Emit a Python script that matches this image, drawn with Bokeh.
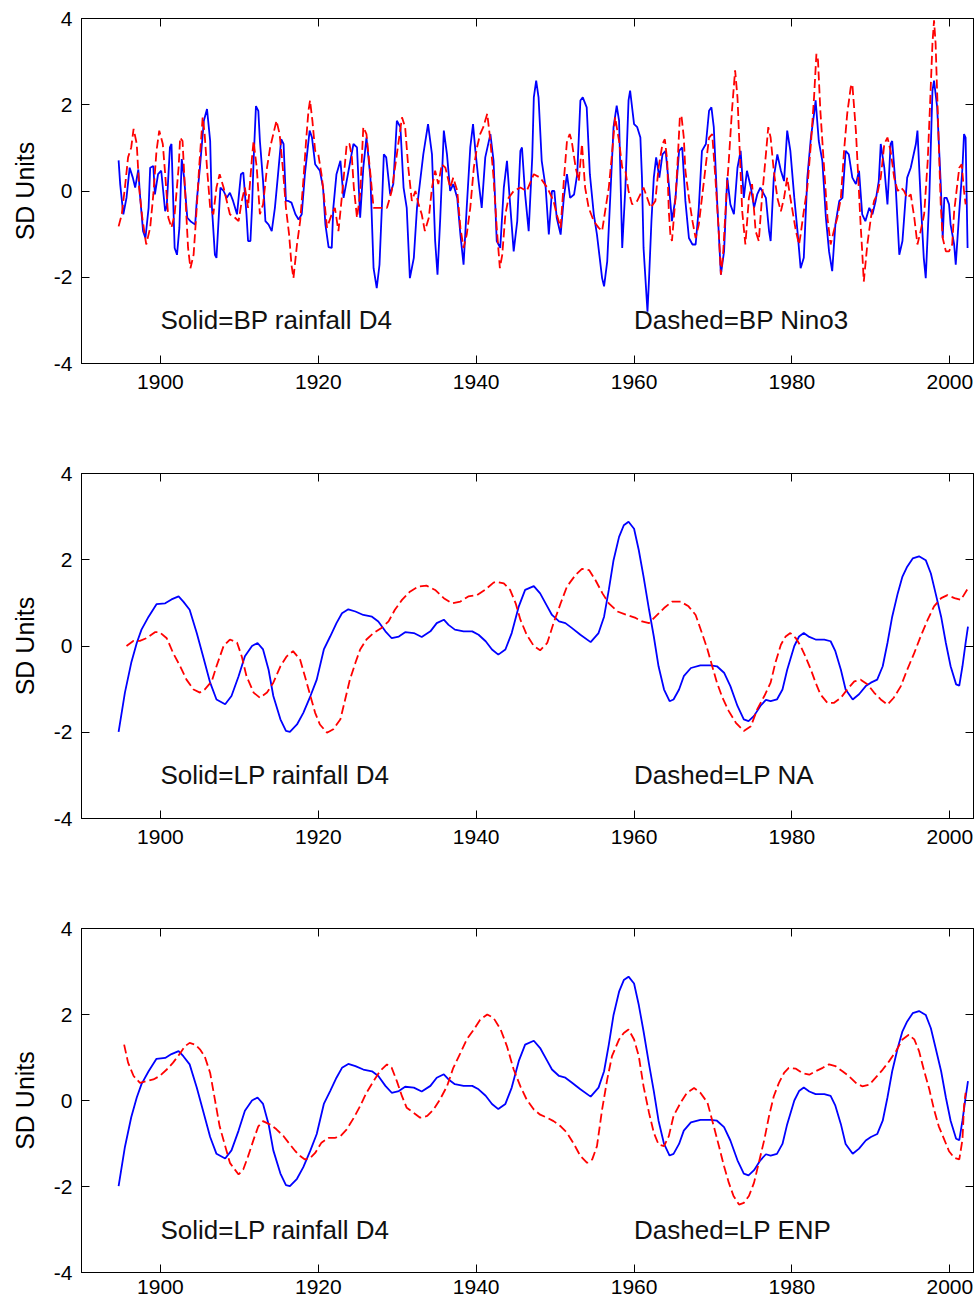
from bokeh.plotting import figure
from bokeh.layouts import column
from bokeh.models import Range1d, LinearAxis, FixedTicker, Label
from bokeh.embed import file_html
from bokeh.resources import INLINE

# ---------------- data ----------------
x_ticks = [1900, 1920, 1940, 1960, 1980, 2000]
y_ticks = [-4, -2, 0, 2, 4]
y_tick_text = {-4: "-4", -2: "-2", 0: "0", 2: "2", 4: "4"}

# Panel 1: band-pass rainfall D4 (solid blue)
bp_rain_yr = [1894.7, 1894.9, 1895.3, 1895.7, 1896.1, 1896.5, 1896.8, 1897.2, 1897.4, 1897.8,
              1898.1, 1898.5, 1898.7, 1899.1, 1899.3, 1899.7, 1900.1, 1900.6, 1900.8, 1901.2,
              1901.4, 1901.8, 1902.1, 1902.4, 1902.7, 1903.0, 1903.4, 1903.8, 1904.4, 1904.6,
              1905.0, 1905.5, 1905.9, 1906.3, 1906.5, 1906.9, 1907.1, 1907.5, 1907.6, 1908.0,
              1908.4, 1908.8, 1909.2, 1909.7, 1910.2, 1910.5, 1910.9, 1911.1, 1911.4, 1911.6,
              1911.8, 1912.1, 1912.4, 1912.6, 1913.0, 1913.3, 1913.7, 1914.1, 1914.5, 1914.9,
              1915.3, 1915.6, 1915.9, 1916.2, 1916.6, 1917.1, 1917.5, 1917.9, 1918.3, 1918.9,
              1919.2, 1919.6, 1920.2, 1920.6, 1920.9, 1921.3, 1921.7, 1921.9, 1922.3, 1922.8,
              1923.2, 1924.45, 1924.9, 1925.3, 1925.7, 1926.1, 1926.6, 1927.0, 1927.4, 1927.75,
              1928.05, 1928.3, 1928.6, 1929.1, 1929.5, 1929.95, 1930.4, 1930.8, 1931.2, 1931.6,
              1932.1, 1932.5, 1932.9, 1933.3, 1933.9, 1934.4, 1934.8, 1935.1, 1935.45, 1935.9,
              1936.3, 1936.7, 1937.1, 1937.6, 1938.0, 1938.4, 1938.8, 1939.25, 1939.6, 1939.9,
              1940.3, 1940.7, 1941.15, 1941.8, 1942.2, 1942.6, 1943.05, 1943.5, 1943.9, 1944.3,
              1944.75, 1945.2, 1945.6, 1945.8, 1946.2, 1946.65, 1947.1, 1947.3, 1947.6, 1947.9,
              1948.3, 1948.8, 1949.2, 1949.6, 1949.9, 1950.2, 1950.7, 1951.1, 1951.5, 1951.9,
              1952.4, 1952.8, 1953.2, 1953.5, 1954.0, 1954.4, 1954.9, 1955.3, 1955.95, 1956.2,
              1956.6, 1957.0, 1957.4, 1957.8, 1958.1, 1958.5, 1958.9, 1959.3, 1959.5, 1960.0,
              1960.4, 1960.8, 1961.0, 1961.2, 1961.7, 1961.9, 1962.2, 1962.5, 1962.8, 1963.2,
              1963.6, 1964.0, 1964.4, 1964.8, 1965.25, 1965.7, 1966.1, 1966.5, 1966.95, 1967.4,
              1967.8, 1968.2, 1968.6, 1969.1, 1969.5, 1969.8, 1970.1, 1970.5, 1971.0, 1971.4,
              1971.8, 1972.2, 1972.65, 1973.1, 1973.5, 1973.9, 1974.3, 1974.8, 1975.2, 1975.6,
              1976.0, 1976.7, 1977.1, 1977.3, 1977.7, 1978.15, 1978.6, 1979.0, 1979.4, 1979.8,
              1980.3, 1980.7, 1981.1, 1981.5, 1981.95, 1982.4, 1982.8, 1983.0, 1983.4, 1983.85,
              1984.3, 1984.7, 1985.1, 1985.5, 1986.0, 1986.4, 1986.8, 1987.2, 1987.65, 1988.1,
              1988.5, 1988.9, 1989.3, 1989.8, 1990.2, 1990.6, 1991.0, 1991.25, 1991.7, 1992.1,
              1992.5, 1992.7, 1993.15, 1993.6, 1994.0, 1994.4, 1994.6, 1995.05, 1995.7, 1995.9,
              1996.3, 1996.7, 1996.95, 1997.4, 1997.8, 1998.0, 1998.4, 1998.85, 1999.1, 1999.3,
              1999.6, 1999.9, 2000.1, 2000.55, 2000.75, 2001.2, 2001.6, 2001.8, 2002.0, 2002.25]
bp_rain = [0.71, 0.16, -0.54, -0.16, 0.54, 0.31, 0.08, 0.50, -0.08, -0.93,
           -1.09, -0.39, 0.54, 0.58, -0.08, 0.39, 0.47, -0.47, -0.35, 1.01,
           1.09, -1.32, -1.48, -0.85, 0.74, 0.31, -0.62, -0.70, -0.78, -0.23,
           0.54, 1.63, 1.90, 1.16, -0.31, -1.48, -1.55, -0.23, 0.08, 0.00,
           -0.16, -0.04, -0.23, -0.54, 0.39, 0.43, -0.54, -1.16, -1.16, -0.39,
           0.70, 1.97, 1.86, 1.16, 0.23, -0.70, -0.78, -0.93, -0.39, 0.39,
           1.20, 1.09, -0.23, -0.23, -0.27, -0.54, -0.66, -0.54, 0.39, 1.40,
           1.24, 0.62, 0.47, 0.08, -0.78, -1.30, -1.32, -0.39, 0.39, 0.70,
           -0.16, 1.09, 1.01, -0.62, 0.54, 1.24, 0.31, -1.79, -2.25, -1.71,
           -0.39, 0.85, 0.78, -0.08, 0.16, 1.63, 1.48, 0.08, -0.39, -2.02,
           -1.55, -0.39, 0.23, 0.85, 1.55, 0.85, -1.16, -1.94, -0.62, 1.40,
           0.85, 0.00, 0.16, -0.16, -1.01, -1.71, -0.39, 1.01, 1.55, 0.93,
           0.23, -0.39, 0.78, 1.32, 0.70, -1.16, -1.32, 0.08, 0.70, -0.31,
           -1.40, -0.70, 0.93, 1.01, -0.08, -0.93, 0.78, 2.17, 2.56, 2.17,
           0.70, 0.08, -1.01, 0.00, 0.00, -0.62, -1.01, -0.16, 0.39, -0.16,
           -0.08, 0.39, 2.10, 2.17, 1.94, 0.39, -0.54, -1.01, -2.02, -2.21,
           -1.63, -0.08, 1.48, 1.98, 1.63, -1.32, 0.08, 2.10, 2.33, 1.55,
           1.48, 1.24, 0.31, -1.32, -2.80, -2.02, -0.70, 0.31, 0.78, 0.31,
           0.85, 0.93, 0.16, -0.70, -0.16, 0.93, 1.01, -0.23, -1.09, -1.24,
           -1.24, -0.39, 0.93, 1.09, 1.86, 1.94, 1.48, -0.16, -1.94, -1.40,
           0.31, -0.31, -0.54, 0.54, 0.93, -0.16, 0.47, 0.08, -0.39, -0.08,
           0.08, -0.16, -0.93, -1.16, 0.31, 0.85, 0.47, 0.23, 1.40, 0.93,
           -0.16, -0.93, -1.79, -1.55, 0.31, 1.24, 1.79, 2.10, 1.16, 0.70,
           -0.62, -1.40, -1.86, -0.78, -0.23, -0.16, 0.93, 0.85, 0.31, 0.16,
           0.47, -0.54, -0.70, -0.39, -0.54, -0.23, 0.23, 1.09, 0.54, -0.31,
           1.09, 1.16, 0.08, -1.48, -1.16, -0.16, 0.31, 0.54, 1.09, 1.40,
           -0.16, -1.55, -2.02, -0.16, 2.33, 2.56, 1.94, 0.16, -1.09, -0.16,
           -0.16, -0.31, -0.78, -1.24, -1.71, -0.47, 0.54, 1.32, 1.24, -1.32]

# Panel 1: band-pass Nino3 (dashed red)
bp_nino_yr = [1894.7, 1895.1, 1895.5, 1895.9, 1896.3, 1896.6, 1897.0, 1897.3, 1897.7, 1898.2,
              1898.7, 1899.1, 1899.5, 1899.85, 1900.3, 1900.6, 1901.0, 1901.4, 1901.8, 1902.3,
              1902.5, 1902.8, 1903.1, 1903.5, 1903.8, 1904.2, 1904.6, 1904.9, 1905.35, 1905.6,
              1905.9, 1906.3, 1906.7, 1907.1, 1907.5, 1908.0, 1908.4, 1908.8, 1909.45, 1909.9,
              1910.3, 1910.7, 1911.1, 1911.6, 1911.8, 1912.2, 1912.6, 1913.0, 1913.5, 1913.9,
              1914.3, 1914.7, 1915.1, 1915.5, 1915.9, 1916.3, 1916.6, 1916.85, 1917.3, 1917.7,
              1918.1, 1918.45, 1918.75, 1918.95, 1919.25, 1919.6, 1920.0, 1920.4, 1920.65, 1921.1,
              1921.7, 1922.1, 1922.55, 1923.1, 1923.6, 1923.95, 1924.25, 1924.5, 1924.9, 1925.3,
              1925.7, 1926.1, 1926.6, 1927.0, 1927.8, 1928.7, 1929.3, 1929.95, 1930.6, 1931.0,
              1931.4, 1931.85, 1932.3, 1932.7, 1933.1, 1933.5, 1934.0, 1934.4, 1934.8, 1935.2,
              1935.65, 1936.1, 1936.7, 1937.1, 1937.6, 1938.0, 1938.4, 1938.8, 1939.25, 1939.7,
              1940.1, 1940.5, 1940.9, 1941.4, 1941.8, 1942.2, 1942.6, 1943.0, 1943.3, 1943.7,
              1944.1, 1944.75, 1945.6, 1946.4, 1947.3, 1948.1, 1949.0, 1949.8, 1950.2, 1950.7,
              1951.1, 1951.5, 1951.85, 1952.1, 1952.6, 1953.0, 1953.4, 1953.8, 1954.25, 1954.9,
              1955.5, 1955.95, 1956.4, 1956.8, 1957.2, 1957.6, 1958.1, 1958.5, 1958.9, 1959.3,
              1959.75, 1960.4, 1961.2, 1962.1, 1962.7, 1963.1, 1963.6, 1963.9, 1964.2, 1964.4,
              1964.6, 1964.8, 1965.25, 1965.5, 1965.8, 1966.0, 1966.3, 1966.5, 1966.95, 1967.4,
              1967.8, 1968.2, 1968.6, 1969.1, 1969.5, 1969.9, 1970.3, 1970.7, 1971.0, 1971.3,
              1971.7, 1972.0, 1972.4, 1972.8, 1973.1, 1973.4, 1973.7, 1974.1, 1974.55, 1974.95,
              1975.4, 1975.8, 1976.2, 1976.7, 1977.0, 1977.3, 1977.7, 1978.15, 1978.6, 1979.0,
              1979.4, 1979.8, 1980.5, 1980.9, 1981.1, 1981.5, 1981.95, 1982.4, 1982.8, 1983.1,
              1983.3, 1983.6, 1984.1, 1984.5, 1984.9, 1985.3, 1985.75, 1986.2, 1986.6, 1987.0,
              1987.45, 1987.65, 1988.1, 1988.4, 1988.7, 1988.9, 1989.1, 1989.55, 1990.0, 1990.4,
              1990.8, 1991.25, 1991.7, 1992.1, 1992.5, 1992.95, 1993.4, 1993.8, 1994.2, 1994.6,
              1995.05, 1995.5, 1995.9, 1996.3, 1996.75, 1997.2, 1997.5, 1997.8, 1998.0, 1998.2,
              1998.4, 1998.6, 1998.85, 1999.1, 1999.5, 1999.9, 2000.3, 2000.55, 2000.75, 2000.95,
              2001.2, 2001.5, 2001.8, 2002.0]
bp_nino = [-0.82, -0.54, 0.08, 0.78, 1.01, 1.44, 1.09, 0.08, -0.62, -1.24,
           -0.85, -0.08, 0.93, 1.40, 1.09, 0.39, -0.62, -0.85, -0.54, 0.54,
           1.24, 1.16, 0.08, -1.32, -1.79, -1.48, -0.39, 0.54, 1.71, 1.32,
           0.54, -0.39, -0.54, 0.08, 0.39, 0.08, -0.23, -0.54, -0.62, -0.70,
           -0.23, 0.08, -0.39, 0.78, 1.16, 0.54, -0.54, -0.31, 0.54, 1.01,
           1.32, 1.63, 1.32, 0.54, -0.39, -1.01, -1.71, -2.02, -1.24, -0.70,
           0.23, 1.16, 1.86, 2.10, 1.63, 0.93, 0.85, 0.39, 0.00, -0.85,
           -0.54, -0.39, -0.93, 0.08, 1.09, 1.09, 0.78, 0.08, -0.62, -0.08,
           1.48, 1.32, 0.39, -0.39, -0.39, -0.39, 0.00, 0.85, 1.71, 1.48,
           0.54, -0.23, 0.00, -0.31, -0.54, -0.93, -0.62, 0.08, 0.47, 0.16,
           0.62, 0.54, 0.08, 0.31, 0.00, -0.85, -1.32, -1.01, -0.39, 0.54,
           1.01, 1.32, 1.48, 1.79, 1.16, 0.31, -0.85, -1.79, -1.48, -0.54,
           -0.16, 0.00, 0.08, 0.00, 0.39, 0.31, 0.08, -0.23, -0.54, -0.85,
           0.23, 1.16, 1.32, 1.16, 0.54, 0.23, 1.09, 0.08, -0.39, -0.70,
           -0.85, -0.93, -0.39, 0.08, 0.85, 1.71, 1.16, 0.54, 0.47, 0.00,
           -0.31, -0.23, 0.08, -0.39, -0.23, 0.54, 1.09, 1.20, 0.70, -0.47,
           -1.01, -1.16, -0.16, 0.62, 1.71, 1.75, 1.24, 0.47, -0.16, -0.70,
           -1.09, -0.78, -0.16, 0.62, 1.24, 1.32, 0.31, -0.85, -1.94, -1.40,
           -0.08, 0.70, 1.86, 2.80, 2.17, 0.85, -0.47, -1.24, -0.16, 0.16,
           -0.93, -1.16, -0.16, 0.85, 1.48, 1.24, 0.47, -0.16, -0.47, -0.16,
           0.31, -0.16, -0.93, -1.24, -1.01, -0.47, 0.08, 1.09, 2.17, 3.18,
           3.03, 1.86, 0.47, -0.62, -1.24, -0.93, -0.62, -0.16, 0.93, 1.79,
           2.41, 2.48, 1.40, 0.31, -0.78, -1.40, -2.10, -1.24, -0.62, -0.23,
           -0.08, 0.31, 1.09, 1.24, 0.93, 0.31, 0.00, 0.08, 0.00, -0.16,
           -0.08, -0.62, -1.24, -0.93, -0.54, 0.70, 2.02, 3.42, 3.96, 3.42,
           2.25, 1.09, -0.31, -1.09, -1.40, -1.40, -1.24, -0.47, -0.16, 0.16,
           0.54, 0.62, 0.00, -0.31]

# Panels 2 and 3: low-pass rainfall D4 (solid blue)
lp_rain_yr = [1894.7, 1895.5, 1896.3, 1897.0, 1897.6, 1898.5, 1899.5, 1900.6, 1901.4, 1902.3,
              1902.9, 1903.7, 1904.6, 1905.4, 1906.3, 1907.1, 1908.2, 1909.0, 1909.9, 1910.7,
              1911.6, 1912.3, 1913.0, 1913.7, 1914.3, 1915.2, 1915.9, 1916.4, 1917.3, 1918.1,
              1919.0, 1919.8, 1920.7, 1921.5, 1922.3, 1923.0, 1923.8, 1924.7, 1925.7, 1926.8,
              1927.6, 1928.5, 1929.3, 1930.2, 1931.0, 1932.1, 1933.1, 1934.2, 1935.0, 1935.9,
              1936.5, 1937.3, 1938.4, 1939.5, 1940.3, 1941.2, 1942.0, 1942.8, 1943.7, 1944.5,
              1945.4, 1946.2, 1947.3, 1948.1, 1949.0, 1949.6, 1950.5, 1951.3, 1952.1, 1953.2,
              1954.5, 1955.5, 1956.2, 1956.8, 1957.4, 1958.1, 1958.7, 1959.3, 1960.0, 1960.6,
              1961.2, 1961.9, 1962.5, 1963.1, 1963.8, 1964.5, 1965.0, 1965.7, 1966.3, 1967.2,
              1968.4, 1969.7, 1970.5, 1971.4, 1972.2, 1973.1, 1973.9, 1974.5, 1975.2, 1976.0,
              1976.7, 1977.3, 1978.1, 1978.8, 1979.4, 1980.3, 1980.9, 1981.5, 1982.2, 1983.0,
              1984.1, 1984.9, 1985.5, 1986.2, 1986.8, 1987.7, 1988.5, 1989.35, 1990.0, 1990.8,
              1991.5, 1992.1, 1992.7, 1993.4, 1994.0, 1994.6, 1995.3, 1996.1, 1996.95, 1997.6,
              1998.2, 1998.9, 1999.5, 2000.1, 2000.8, 2001.2, 2001.6, 2002.0, 2002.3]
lp_rain = [-1.99, -1.08, -0.39, 0.07, 0.38, 0.68, 0.97, 0.99, 1.08, 1.15,
           1.03, 0.84, 0.30, -0.24, -0.85, -1.24, -1.35, -1.16, -0.70, -0.24,
           0.00, 0.07, -0.08, -0.55, -1.16, -1.70, -1.97, -1.99, -1.82, -1.55,
           -1.16, -0.78, -0.08, 0.22, 0.53, 0.76, 0.85, 0.80, 0.72, 0.68,
           0.57, 0.34, 0.18, 0.22, 0.32, 0.30, 0.21, 0.34, 0.53, 0.61,
           0.49, 0.38, 0.34, 0.34, 0.26, 0.11, -0.08, -0.20, -0.08, 0.30,
           0.92, 1.30, 1.39, 1.22, 0.92, 0.72, 0.57, 0.53, 0.42, 0.26,
           0.09, 0.30, 0.68, 1.30, 1.99, 2.53, 2.80, 2.88, 2.72, 2.22,
           1.61, 0.84, 0.22, -0.47, -1.01, -1.28, -1.24, -1.01, -0.70, -0.51,
           -0.45, -0.45, -0.47, -0.62, -0.93, -1.39, -1.70, -1.74, -1.62, -1.39,
           -1.25, -1.28, -1.24, -1.01, -0.55, 0.00, 0.22, 0.30, 0.21, 0.15,
           0.15, 0.11, -0.12, -0.55, -1.01, -1.24, -1.12, -0.93, -0.85, -0.78,
           -0.47, 0.07, 0.68, 1.22, 1.61, 1.84, 2.03, 2.08, 1.99, 1.68,
           1.22, 0.68, 0.07, -0.47, -0.89, -0.92, -0.47, 0.07, 0.45]

# Panel 2: low-pass NA (dashed red)
lp_na_yr = [1895.7, 1896.6, 1897.4, 1898.2, 1899.3, 1899.9, 1900.8, 1901.6, 1902.5, 1903.3,
            1904.2, 1905.0, 1905.6, 1906.5, 1907.1, 1908.0, 1908.8, 1909.7, 1910.3, 1910.9,
            1911.8, 1912.6, 1913.5, 1914.3, 1915.2, 1916.0, 1916.8, 1917.7, 1918.3, 1919.0,
            1919.6, 1920.2, 1921.1, 1921.9, 1922.8, 1923.4, 1924.0, 1924.7, 1925.3, 1926.1,
            1927.0, 1928.0, 1928.9, 1929.7, 1930.6, 1931.6, 1932.7, 1933.7, 1934.8, 1935.9,
            1936.9, 1938.0, 1939.0, 1940.1, 1941.1, 1942.2, 1942.6, 1943.5, 1944.3, 1945.0,
            1945.6, 1946.4, 1947.3, 1948.1, 1949.0, 1949.8, 1950.7, 1951.5, 1952.6, 1953.4,
            1954.3, 1955.1, 1956.0, 1956.8, 1957.9, 1959.1, 1960.2, 1961.0, 1961.9, 1962.7,
            1963.8, 1964.8, 1965.9, 1966.9, 1967.8, 1968.6, 1969.3, 1969.9, 1970.5, 1971.2,
            1972.0, 1972.9, 1973.9, 1974.8, 1975.6, 1976.5, 1977.3, 1977.9, 1978.6, 1979.2,
            1979.8, 1980.5, 1981.1, 1981.7, 1982.4, 1983.0, 1983.6, 1984.5, 1985.3, 1986.2,
            1987.0, 1987.9, 1988.7, 1989.6, 1990.4, 1991.25, 1992.1, 1992.9, 1993.8, 1994.6,
            1995.5, 1996.3, 1997.2, 1998.0, 1998.9, 1999.7, 2000.6, 2001.4, 2002.3]
lp_na = [0.00, 0.12, 0.12, 0.18, 0.32, 0.32, 0.18, -0.16, -0.47, -0.78,
         -1.01, -1.08, -1.01, -0.82, -0.47, 0.00, 0.15, 0.08, -0.24, -0.70,
         -1.08, -1.20, -1.08, -0.85, -0.47, -0.24, -0.12, -0.32, -0.70, -1.16,
         -1.55, -1.82, -2.01, -1.93, -1.70, -1.24, -0.78, -0.39, -0.08, 0.15,
         0.30, 0.42, 0.57, 0.84, 1.07, 1.26, 1.38, 1.40, 1.30, 1.11,
         0.99, 1.03, 1.15, 1.18, 1.30, 1.47, 1.49, 1.45, 1.30, 0.99,
         0.61, 0.26, 0.00, -0.10, 0.07, 0.53, 0.99, 1.38, 1.65, 1.79,
         1.76, 1.53, 1.22, 0.99, 0.80, 0.72, 0.65, 0.57, 0.53, 0.68,
         0.88, 1.03, 1.03, 0.92, 0.72, 0.30, -0.08, -0.47, -0.85, -1.20,
         -1.51, -1.78, -1.97, -1.86, -1.47, -1.16, -0.85, -0.39, 0.03, 0.22,
         0.30, 0.18, 0.00, -0.24, -0.55, -0.85, -1.12, -1.32, -1.32, -1.20,
         -1.01, -0.82, -0.78, -0.89, -1.08, -1.24, -1.36, -1.20, -0.93, -0.55,
         -0.16, 0.22, 0.61, 0.92, 1.11, 1.18, 1.11, 1.07, 1.34]

# Panel 3: low-pass ENP (dashed red)
lp_enp_yr = [1895.4, 1895.9, 1896.6, 1897.4, 1898.2, 1899.1, 1899.9, 1900.8, 1901.6, 1902.5,
             1903.1, 1903.7, 1904.4, 1905.0, 1905.6, 1906.3, 1906.9, 1907.5, 1908.2, 1908.8,
             1909.4, 1909.9, 1910.5, 1911.1, 1911.8, 1912.4, 1913.0, 1913.9, 1914.7, 1915.6,
             1916.4, 1917.1, 1917.7, 1918.3, 1919.0, 1919.6, 1920.4, 1921.3, 1922.1, 1922.8,
             1923.6, 1924.5, 1925.3, 1926.1, 1927.0, 1927.8, 1928.7, 1929.3, 1929.95, 1930.6,
             1931.2, 1932.1, 1932.9, 1933.8, 1934.6, 1935.4, 1936.3, 1937.1, 1938.0, 1938.8,
             1939.7, 1940.5, 1941.4, 1942.2, 1943.1, 1943.9, 1944.75, 1945.6, 1946.4, 1947.3,
             1948.1, 1949.0, 1949.8, 1950.7, 1951.5, 1952.4, 1953.2, 1954.05, 1954.7, 1955.3,
             1955.95, 1956.6, 1957.2, 1958.1, 1958.7, 1959.3, 1960.0, 1960.6, 1961.2, 1961.9,
             1962.5, 1963.1, 1963.8, 1964.4, 1965.0, 1965.9, 1966.7, 1967.6, 1968.4, 1969.3,
             1970.1, 1970.75, 1971.4, 1972.0, 1972.6, 1973.3, 1973.9, 1974.55, 1975.2, 1975.8,
             1976.5, 1977.1, 1977.7, 1978.35, 1979.0, 1979.6, 1980.5, 1981.3, 1982.2, 1983.0,
             1983.9, 1984.7, 1985.5, 1986.4, 1987.2, 1988.1, 1988.9, 1989.8, 1990.6, 1991.5,
             1992.3, 1993.2, 1994.0, 1994.8, 1995.5, 1996.1, 1996.7, 1997.4, 1998.0, 1998.6,
             1999.3, 1999.9, 2000.55, 2001.2, 2001.6, 2001.8, 2002.0]
lp_enp = [1.30, 0.88, 0.57, 0.41, 0.45, 0.49, 0.57, 0.72, 0.88, 1.10,
          1.26, 1.34, 1.30, 1.19, 1.03, 0.64, 0.02, -0.60, -1.06, -1.45,
          -1.60, -1.72, -1.60, -1.30, -0.91, -0.60, -0.48, -0.56, -0.67, -0.83,
          -1.02, -1.18, -1.29, -1.37, -1.33, -1.22, -0.98, -0.87, -0.87, -0.83,
          -0.67, -0.40, -0.13, 0.18, 0.45, 0.68, 0.84, 0.76, 0.45, 0.10,
          -0.17, -0.29, -0.40, -0.36, -0.21, 0.02, 0.33, 0.76, 1.10, 1.42,
          1.65, 1.88, 2.00, 1.92, 1.65, 1.26, 0.72, 0.33, 0.02, -0.21,
          -0.33, -0.40, -0.48, -0.60, -0.75, -1.02, -1.29, -1.45, -1.37, -1.06,
          -0.21, 0.49, 1.03, 1.42, 1.57, 1.65, 1.42, 1.03, 0.33, -0.29,
          -0.75, -1.02, -1.06, -0.83, -0.36, -0.05, 0.18, 0.29, 0.18, -0.05,
          -0.60, -1.06, -1.53, -1.91, -2.22, -2.42, -2.38, -2.22, -1.91, -1.45,
          -0.91, -0.36, 0.10, 0.41, 0.64, 0.76, 0.74, 0.64, 0.60, 0.68,
          0.76, 0.84, 0.80, 0.68, 0.57, 0.41, 0.33, 0.37, 0.53, 0.72,
          0.91, 1.15, 1.42, 1.53, 1.42, 1.15, 0.72, 0.26, -0.21, -0.60,
          -0.91, -1.18, -1.33, -1.37, -0.91, -0.13, 0.18]

panels = [
    (bp_rain_yr, bp_rain, bp_nino_yr, bp_nino, "Solid=BP rainfall D4", "Dashed=BP Nino3"),
    (lp_rain_yr, lp_rain, lp_na_yr, lp_na, "Solid=LP rainfall D4", "Dashed=LP NA"),
    (lp_rain_yr, lp_rain, lp_enp_yr, lp_enp, "Solid=LP rainfall D4", "Dashed=LP ENP"),
]

# ---------------- figure ----------------
FONT = "Liberation Sans"
heights = [455, 455, 393]
bottoms = [92, 92, 31]
x_standoffs = [11, 11, 7]
figs = []
for (bx, by, rx, ry, t1, t2), h, bb, xs in zip(panels, heights, bottoms, x_standoffs):
    p = figure(width=976, height=h, x_range=Range1d(1890, 2003), y_range=Range1d(-4, 4),
               output_backend="svg", toolbar_location=None,
               min_border_left=81, min_border_right=3, min_border_top=18, min_border_bottom=bb,
               x_axis_location=None, y_axis_location=None)
    p.grid.visible = False
    p.outline_line_color = "black"
    p.outline_line_width = 1
    p.background_fill_color = "white"
    p.border_fill_color = "white"

    def style(ax, labels):
        ax.major_tick_in = 8
        ax.major_tick_out = 0
        ax.minor_tick_line_color = None
        ax.axis_line_color = "black"
        ax.major_tick_line_color = "black"
        ax.major_label_text_font = FONT
        if labels:
            ax.major_label_text_font_size = "21px"
            ax.major_label_text_color = "black"
        else:
            ax.major_label_text_font_size = "1px"
            ax.major_label_text_color = None
            ax.major_label_standoff = 0

    xb = LinearAxis(ticker=FixedTicker(ticks=x_ticks))
    style(xb, True)
    xb.major_label_standoff = xs
    p.add_layout(xb, "below")
    xa = LinearAxis(ticker=FixedTicker(ticks=x_ticks))
    style(xa, False)
    p.add_layout(xa, "above")
    yl = LinearAxis(ticker=FixedTicker(ticks=y_ticks), axis_label="SD Units",
                    major_label_overrides=y_tick_text)
    style(yl, True)
    yl.major_label_standoff = 9
    yl.axis_label_text_font = FONT
    yl.axis_label_text_font_size = "25px"
    yl.axis_label_text_font_style = "normal"
    yl.axis_label_text_color = "black"
    yl.axis_label_standoff = 12
    p.add_layout(yl, "left")
    yr = LinearAxis(ticker=FixedTicker(ticks=y_ticks))
    style(yr, False)
    p.add_layout(yr, "right")

    p.line(bx, by, line_color="#0000ff", line_width=1.8)
    p.line(rx, ry, line_color="#ff0000", line_width=1.8, line_dash="9 4")

    for xx, tt in ((1900, t1), (1960, t2)):
        p.add_layout(Label(x=xx, y=-3, text=tt, text_font=FONT, text_font_size="26px",
                           text_baseline="middle", text_align="left", text_color="#111111"))
    figs.append(p)

layout = column(*figs, spacing=0)
open("out.html", "w").write(file_html(layout, INLINE))
